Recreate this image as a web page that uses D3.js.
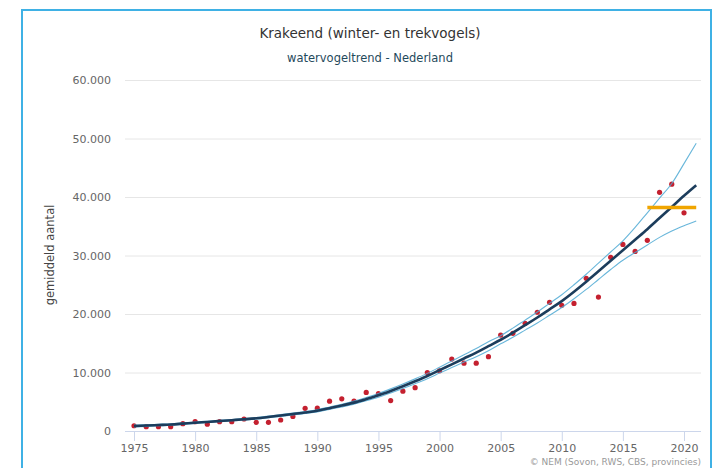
<!DOCTYPE html>
<html>
<head>
<meta charset="utf-8">
<script src="https://cdn.jsdelivr.net/npm/d3@7/dist/d3.min.js"></script>
<style>
  html, body { margin: 0; padding: 0; background: #fff; }
  svg { display: block; font-family: "DejaVu Sans", "Liberation Sans", sans-serif; }
</style>
</head>
<body>
<svg id="chart" width="718" height="468"></svg>
<script>
// ---- data ----
const countYears = d3.range(1975, 2021);
const counts = [900, 740, 740, 740, 1250, 1600, 1150, 1600, 1600, 2050,
                1480, 1480, 1880, 2500, 3880, 3900, 5100, 5500, 5100, 6600,
                6400, 5200, 6800, 7400, 10000, 10300, 12300, 11600, 11600, 12700,
                16400, 16700, 18400, 20300, 22000, 21500, 21800, 26100, 22900, 29700,
                31900, 30700, 32600, 40800, 42200, 37300];
const trendYears = d3.range(1975, 2022);
const trend = [850, 930, 1020, 1110, 1260, 1420, 1550, 1700, 1850, 2000,
               2170, 2400, 2650, 2900, 3150, 3450, 3900, 4350, 4850, 5450,
               6100, 6850, 7650, 8500, 9400, 10400, 11400, 12400, 13400, 14500,
               15600, 16800, 18100, 19400, 20800, 22200, 23800, 25500, 27300, 29100,
               30900, 32700, 34500, 36400, 38300, 40200, 42000];
const upper = [1000, 1070, 1150, 1230, 1370, 1530, 1660, 1810, 1960, 2120,
               2300, 2540, 2800, 3060, 3320, 3640, 4110, 4580, 5110, 5740,
               6420, 7200, 8030, 8910, 9850, 10900, 11960, 13020, 14090, 15270,
               16300, 17580, 18960, 20340, 21820, 23300, 25000, 26800, 28700, 30600,
               32500, 34800, 37300, 39800, 42300, 45700, 49200];
const lower = [700, 790, 890, 990, 1150, 1310, 1440, 1590, 1740, 1880,
               2040, 2260, 2500, 2740, 2980, 3260, 3690, 4120, 4590, 5160,
               5780, 6500, 7270, 8090, 8950, 9900, 10840, 11780, 12710, 13730,
               14900, 16020, 17240, 18460, 19780, 21100, 22600, 24200, 25900, 27600,
               29200, 30500, 31800, 33100, 34200, 35100, 35900];
const meanYears = [2017, 2021];
const meanValue = 38200;
const yTicks = [0, 10000, 20000, 30000, 40000, 50000, 60000];
const xTicks = [1975, 1980, 1985, 1990, 1995, 2000, 2005, 2010, 2015, 2020];
const titleText = "Krakeend (winter- en trekvogels)";
const subtitleText = "watervogeltrend - Nederland";
const yTitle = "gemiddeld aantal";
const creditText = "© NEM (Sovon, RWS, CBS, provincies)";

// ---- drawing ----
const svg = d3.select("#chart");
const nl = d3.formatLocale({decimal: ",", thousands: ".", grouping: [3], currency: ["€", ""]});
const fmt = nl.format(",.0f");

const x = d3.scaleLinear().domain([1975, 2020]).range([134, 684]);
const y = d3.scaleLinear().domain([0, 60000]).range([431, 80]);
const plotLeft = 125, plotRight = 701;

// frame
svg.append("rect").attr("x", 22).attr("y", 10).attr("width", 689).attr("height", 480)
  .attr("fill", "#fff").attr("stroke", "#3fb1e5").attr("stroke-width", 2);

// title
svg.append("text").attr("x", 370).attr("y", 38).attr("text-anchor", "middle")
  .attr("font-size", 13.5).attr("fill", "#333").text(titleText);
svg.append("text").attr("x", 370).attr("y", 62).attr("text-anchor", "middle")
  .attr("font-size", 11.5).attr("fill", "#1f4a5c").text(subtitleText);

// grid
svg.append("g").selectAll("line").data(yTicks).join("line")
  .attr("x1", plotLeft).attr("x2", plotRight)
  .attr("y1", d => y(d) + 0.5).attr("y2", d => y(d) + 0.5)
  .attr("stroke", d => d === 0 ? "#ccd6eb" : "#e6e6e6").attr("stroke-width", 1);

// y axis labels
const yAxis = d3.axisLeft(y).tickValues(yTicks).tickFormat(d => fmt(d)).tickSize(0).tickPadding(0);
const gy = svg.append("g").attr("transform", "translate(111,0)").call(yAxis);
gy.select(".domain").remove();
gy.selectAll("text").attr("font-size", 11).attr("fill", "#666")
  .attr("font-family", "DejaVu Sans, sans-serif");

// x axis
const xAxis = d3.axisBottom(x).tickValues(xTicks).tickFormat(d3.format("d")).tickSize(10).tickPadding(3);
const gx = svg.append("g").attr("transform", "translate(0,431)").call(xAxis);
gx.select(".domain").remove();
gx.selectAll("line").attr("stroke", "#ccd6eb");
gx.selectAll("text").attr("font-size", 11).attr("fill", "#666")
  .attr("font-family", "DejaVu Sans, sans-serif");

// y title
svg.append("text").attr("transform", "translate(54,255) rotate(-90)")
  .attr("text-anchor", "middle").attr("font-size", 11.5).attr("fill", "#444").text(yTitle);

// points (drawn beneath lines)
svg.append("g").selectAll("circle").data(countYears.map((yr, i) => [yr, counts[i]])).join("circle")
  .attr("cx", d => x(d[0])).attr("cy", d => y(d[1])).attr("r", 2.6)
  .attr("fill", "#c4202f");

const line = d3.line().x(d => x(d[0])).y(d => y(d[1])).curve(d3.curveMonotoneX);
const toPts = arr => trendYears.map((yr, i) => [yr, arr[i]]);

svg.append("path").datum(toPts(upper)).attr("d", line)
  .attr("fill", "none").attr("stroke", "#4ea9d3").attr("stroke-width", 1.1).attr("stroke-opacity", 0.85);
svg.append("path").datum(toPts(lower)).attr("d", line)
  .attr("fill", "none").attr("stroke", "#4ea9d3").attr("stroke-width", 1.1).attr("stroke-opacity", 0.85);
svg.append("path").datum(toPts(trend)).attr("d", line)
  .attr("fill", "none").attr("stroke", "#1c3d5c").attr("stroke-width", 2.6);

// mean line
svg.append("path").datum(meanYears.map(yr => [yr, meanValue]))
  .attr("d", d3.line().x(d => x(d[0])).y(d => y(d[1])))
  .attr("fill", "none").attr("stroke", "#f0a500").attr("stroke-width", 3.5);

// credits
svg.append("text").attr("x", 701).attr("y", 465).attr("text-anchor", "end")
  .attr("font-size", 9).attr("fill", "#999").text(creditText);
</script>
</body>
</html>
